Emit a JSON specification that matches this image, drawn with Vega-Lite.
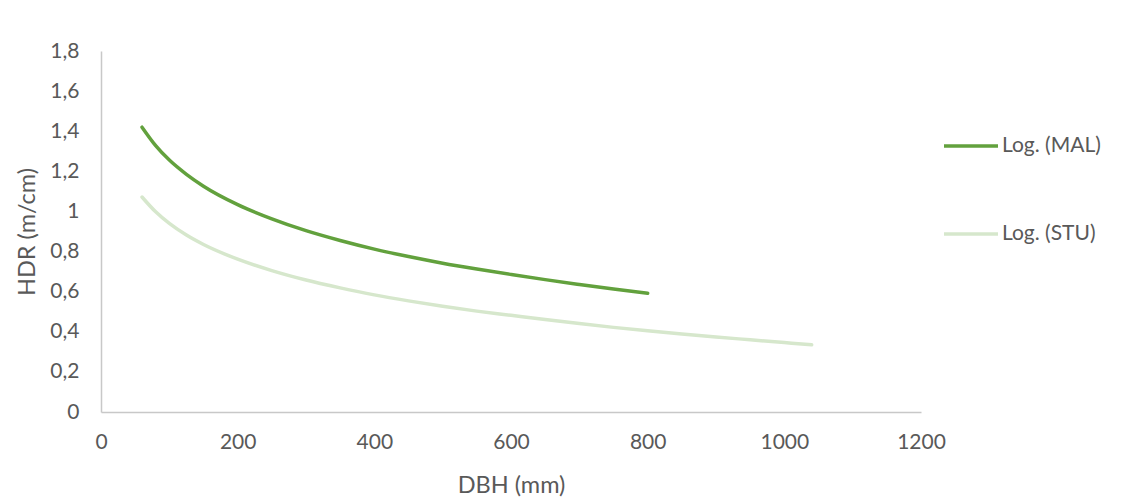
{
  "$schema": "https://vega.github.io/schema/vega-lite/v6.json",
  "autosize": "none",
  "width": 820,
  "height": 361,
  "padding": {"left": 101, "top": 51, "right": 218, "bottom": 91},
  "background": "white",
  "config": {
    "view": {"stroke": null},
    "font": "Lato",
    "axis": {"grid": false, "ticks": false, "domainColor": "#C8C8C8", "domainWidth": 1.5, "labelColor": "#595959", "titleColor": "#595959", "labelFont": "Lato", "titleFont": "Lato", "labelFontSize": 21, "titleFontSize": 23.5, "titleFontWeight": "normal"}
  },
  "data": {
    "values": [
      {"dbh": 60, "hdr": 1.42, "series": "Log. (MAL)"},
      {"dbh": 80, "hdr": 1.328, "series": "Log. (MAL)"},
      {"dbh": 100, "hdr": 1.256, "series": "Log. (MAL)"},
      {"dbh": 125, "hdr": 1.185, "series": "Log. (MAL)"},
      {"dbh": 150, "hdr": 1.126, "series": "Log. (MAL)"},
      {"dbh": 200, "hdr": 1.034, "series": "Log. (MAL)"},
      {"dbh": 250, "hdr": 0.963, "series": "Log. (MAL)"},
      {"dbh": 300, "hdr": 0.904, "series": "Log. (MAL)"},
      {"dbh": 350, "hdr": 0.855, "series": "Log. (MAL)"},
      {"dbh": 400, "hdr": 0.812, "series": "Log. (MAL)"},
      {"dbh": 450, "hdr": 0.775, "series": "Log. (MAL)"},
      {"dbh": 500, "hdr": 0.742, "series": "Log. (MAL)"},
      {"dbh": 550, "hdr": 0.713, "series": "Log. (MAL)"},
      {"dbh": 600, "hdr": 0.686, "series": "Log. (MAL)"},
      {"dbh": 650, "hdr": 0.66, "series": "Log. (MAL)"},
      {"dbh": 700, "hdr": 0.636, "series": "Log. (MAL)"},
      {"dbh": 750, "hdr": 0.613, "series": "Log. (MAL)"},
      {"dbh": 800, "hdr": 0.592, "series": "Log. (MAL)"},
      {"dbh": 60, "hdr": 1.072, "series": "Log. (STU)"},
      {"dbh": 80, "hdr": 0.998, "series": "Log. (STU)"},
      {"dbh": 100, "hdr": 0.94, "series": "Log. (STU)"},
      {"dbh": 125, "hdr": 0.882, "series": "Log. (STU)"},
      {"dbh": 150, "hdr": 0.835, "series": "Log. (STU)"},
      {"dbh": 200, "hdr": 0.762, "series": "Log. (STU)"},
      {"dbh": 250, "hdr": 0.705, "series": "Log. (STU)"},
      {"dbh": 300, "hdr": 0.658, "series": "Log. (STU)"},
      {"dbh": 350, "hdr": 0.619, "series": "Log. (STU)"},
      {"dbh": 400, "hdr": 0.584, "series": "Log. (STU)"},
      {"dbh": 450, "hdr": 0.554, "series": "Log. (STU)"},
      {"dbh": 500, "hdr": 0.527, "series": "Log. (STU)"},
      {"dbh": 550, "hdr": 0.503, "series": "Log. (STU)"},
      {"dbh": 600, "hdr": 0.482, "series": "Log. (STU)"},
      {"dbh": 650, "hdr": 0.461, "series": "Log. (STU)"},
      {"dbh": 700, "hdr": 0.441, "series": "Log. (STU)"},
      {"dbh": 750, "hdr": 0.422, "series": "Log. (STU)"},
      {"dbh": 800, "hdr": 0.405, "series": "Log. (STU)"},
      {"dbh": 850, "hdr": 0.389, "series": "Log. (STU)"},
      {"dbh": 900, "hdr": 0.374, "series": "Log. (STU)"},
      {"dbh": 950, "hdr": 0.36, "series": "Log. (STU)"},
      {"dbh": 1000, "hdr": 0.346, "series": "Log. (STU)"},
      {"dbh": 1040, "hdr": 0.335, "series": "Log. (STU)"}
    ]
  },
  "mark": {"type": "line", "strokeWidth": 3.5, "strokeCap": "round", "interpolate": "monotone"},
  "encoding": {
    "x": {"field": "dbh", "type": "quantitative", "title": "DBH (mm)", "scale": {"domain": [0, 1200], "nice": false}, "axis": {"values": [0, 200, 400, 600, 800, 1000, 1200], "format": "d", "labelFlush": false, "labelPadding": 19, "titlePadding": 21}},
    "y": {"field": "hdr", "type": "quantitative", "title": "HDR (m/cm)", "scale": {"domain": [0, 1.8], "nice": false}, "axis": {"values": [0, 0.2, 0.4, 0.6, 0.8, 1, 1.2, 1.4, 1.6, 1.8], "labelExpr": "replace(format(datum.value, '.1~f'), '.', ',')", "labelFlush": false, "labelPadding": 22, "titlePadding": 10}},
    "color": {"field": "series", "type": "nominal", "title": null, "scale": {"domain": ["Log. (MAL)", "Log. (STU)"], "range": ["#62A13D", "#D6E7CC"]}, "legend": {"orient": "none", "legendX": 841, "legendY": 66, "symbolType": "stroke", "symbolSize": 2916, "symbolStrokeWidth": 3.5, "rowPadding": 49, "labelFontSize": 21, "labelColor": "#595959", "labelFont": "Lato", "labelOffset": 2}}
  }
}
